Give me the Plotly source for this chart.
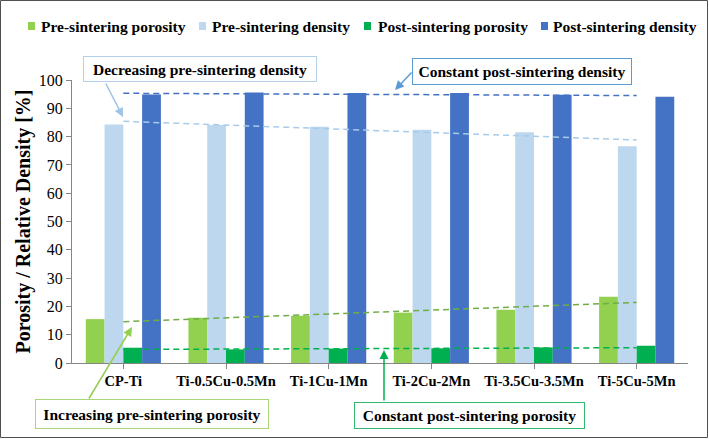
import plotly.graph_objects as go

categories = ["CP-Ti", "Ti-0.5Cu-0.5Mn", "Ti-1Cu-1Mn", "Ti-2Cu-2Mn", "Ti-3.5Cu-3.5Mn", "Ti-5Cu-5Mn"]
pre_porosity = [15.5, 16.0, 16.7, 17.8, 18.8, 23.4]
pre_density = [84.3, 84.1, 83.5, 82.4, 81.5, 76.6]
post_porosity = [5.4, 4.8, 5.1, 5.2, 5.5, 6.1]
post_density = [94.9, 95.6, 95.4, 95.4, 94.8, 94.1]

# trend line end values (at first and last category)
trend_x = [categories[0], categories[-1]]
trend_pre_density = [85.4, 78.8]
trend_post_density = [95.3, 94.5]
trend_pre_porosity = [14.6, 21.4]
trend_post_porosity = [4.8, 5.4]

series_names = ["Pre-sintering porosity", "Pre-sintering density", "Post-sintering porosity", "Post-sintering density"]
bar_colors = ["#92D050", "#BDD7EE", "#00B050", "#4472C4"]

W, H = 709, 439
ML, MR, MT, MB = 72, 21, 80, 76
PW, PH = W - ML - MR, H - MT - MB

def px(x):
    return (x - ML) / PW

def py(y):
    return 1 - (y - MT) / PH

FONT = "Liberation Serif"

fig = go.Figure()
for name, vals, col in zip(series_names, [pre_porosity, pre_density, post_porosity, post_density], bar_colors):
    fig.add_trace(go.Bar(x=categories, y=vals, name=name, marker=dict(color=col, line=dict(width=0)),
                         showlegend=False))

for vals, col in [(trend_post_density, "#4472C4"), (trend_pre_density, "#A9CBEA"),
                  (trend_pre_porosity, "#70AD47"), (trend_post_porosity, "#00B050")]:
    fig.add_trace(go.Scatter(x=trend_x, y=vals, mode="lines", showlegend=False,
                             line=dict(color=col, width=1.5, dash="6px,4px")))

shapes = []
annotations = []

# custom legend
legend_items = [(28, 38.5), (199, 210), (364, 375.5), (541, 551)]
for (sx, tx), name, col in zip(legend_items, series_names, bar_colors):
    shapes.append(dict(type="rect", xref="paper", yref="paper", x0=px(sx), x1=px(sx + 7),
                       y0=py(30), y1=py(22), fillcolor=col, line=dict(width=0)))
    annotations.append(dict(xref="paper", yref="paper", x=px(tx), y=py(26.5), xanchor="left", yanchor="middle",
                            text=name, showarrow=False,
                            font=dict(family=FONT, size=15.5, color="black", weight="bold")))

# outer border
shapes.append(dict(type="rect", xref="paper", yref="paper", x0=px(0.5), x1=px(707.5), y0=py(0.5), y1=py(437.5),
                   line=dict(color="#505050", width=1), fillcolor="rgba(0,0,0,0)"))

# text boxes (left, right, top, bottom, text, border color)
boxes = [
    (83, 317, 56, 82, "Decreasing pre-sintering density", "#B4CFEA"),
    (412, 632, 58, 85, "Constant post-sintering density", "#5B9BD5"),
    (35, 269, 399, 429, "Increasing pre-sintering porosity", "#A9D577"),
    (354, 585, 402, 429, "Constant post-sintering porosity", "#33B870"),
]
for l, r, t, b, txt, col in boxes:
    annotations.append(dict(xref="paper", yref="paper", x=px((l + r) / 2), y=py((t + b) / 2),
                            xanchor="center", yanchor="middle", text=txt, showarrow=False,
                            width=r - l - 6, height=b - t - 6, borderpad=2,
                            bordercolor=col, borderwidth=1, bgcolor="white",
                            font=dict(family=FONT, size=15.5, color="black", weight="bold")))

# arrows (start x, start y, head x, head y, color)
arrows = [
    (105, 82, 123, 117, "#9DC3E6"),
    (413, 71, 395, 90, "#5B9BD5"),
    (88, 400, 132, 327, "#92D050"),
    (384, 402, 384, 350, "#00B050"),
]
for sx, sy, hx, hy, col in arrows:
    annotations.append(dict(xref="paper", yref="paper", x=px(hx), y=py(hy), ax=sx - hx, ay=sy - hy,
                            axref="pixel", ayref="pixel", text="", showarrow=True,
                            arrowhead=2, arrowsize=1.2, arrowwidth=1.5, arrowcolor=col))

fig.update_layout(
    width=W, height=H,
    margin=dict(l=ML, r=MR, t=MT, b=MB),
    paper_bgcolor="white", plot_bgcolor="white",
    barmode="group", bargap=0.268, bargroupgap=0,
    showlegend=False,
    shapes=shapes, annotations=annotations,
    font=dict(family=FONT, color="black"),
)
fig.update_xaxes(range=[-0.5, 5.5], showline=True, linecolor="#868686", linewidth=1,
                 ticks="outside", ticklen=5, tickcolor="#868686", showgrid=False, automargin=False,
                 tickfont=dict(family=FONT, size=14.5, color="black", weight="bold"))
fig.update_yaxes(range=[0, 100], dtick=10, showline=True, linecolor="#868686", linewidth=1,
                 ticks="outside", ticklen=5, tickcolor="#868686", showgrid=False, zeroline=False,
                 automargin=False,
                 tickfont=dict(family=FONT, size=16, color="black"),
                 title=dict(text="Porosity / Relative Density [%]", standoff=2,
                            font=dict(family=FONT, size=20, color="black", weight="bold")))

fig.write_html("out.html", config={"displayModeBar": False},
               post_script="document.body.style.margin='0';document.body.style.overflow='hidden';")
